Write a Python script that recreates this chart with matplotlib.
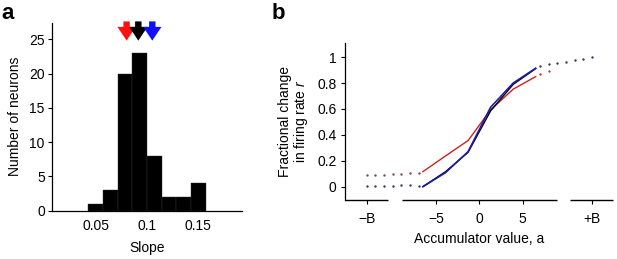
import numpy as np
import matplotlib
matplotlib.use("Agg")
import matplotlib.pyplot as plt
import matplotlib.transforms as mtransforms

plt.rcParams['font.family'] = ['Liberation Sans', 'DejaVu Sans']
plt.rcParams['mathtext.fontset'] = 'custom'
plt.rcParams['mathtext.it'] = 'Liberation Sans:italic'
plt.rcParams['mathtext.rm'] = 'Liberation Sans'

# ---------------- data ----------------
# panel a: histogram of slopes
bin_edges = [0.0425, 0.0569, 0.0713, 0.0857, 0.1001, 0.1145, 0.1289, 0.1433, 0.1578]
counts = [1, 3, 20, 23, 8, 2, 2, 4]
arrow_slopes = [0.0800, 0.0915, 0.1052]
arrow_colors = ['#ff1010', '#000000', '#1010ff']
hist_xticks = [0.05, 0.1, 0.15]
hist_xticklabels = ['0.05', '0.1', '0.15']
hist_yticks = [0, 5, 10, 15, 20, 25]

# panel b: fractional change in firing rate vs accumulator value
acc_x = [-6.5, -3.9, -1.3, 1.3, 3.9, 6.5]
r_red = [0.116, 0.237, 0.356, 0.593, 0.753, 0.850]
r_black = [0.000, 0.115, 0.265, 0.585, 0.790, 0.912]
r_blue = [0.000, 0.108, 0.270, 0.613, 0.800, 0.915]
ext_left_x = [-13, -12, -11, -10, -9, -8, -7]
ext_left_upper = [0.090, 0.088, 0.092, 0.095, 0.098, 0.103, 0.108]
ext_left_lower = [0.002, 0.004, 0.006, 0.008, 0.010, 0.012, 0.008]
ext_right_x = [7, 8, 9, 10, 11, 12, 13]
ext_right_dark = [0.930, 0.945, 0.955, 0.965, 0.978, 0.988, 1.000]
ext_right_red_x = [7, 8]
ext_right_red = [0.870, 0.890]
B = 13
b_xticks = [-B, -5, 0, 5, B]
b_xticklabels = ['\u2212B', '\u22125', '0', '5', '+B']
b_yticks = [0, 0.2, 0.4, 0.6, 0.8, 1.0]
b_yticklabels = ['0', '0.2', '0.4', '0.6', '0.8', '1']
axis_segments = [(-15.5, -10.5), (-8.95, 8.93), (10.45, 15.45)]

# ---------------- figure ----------------
fig = plt.figure(figsize=(6.17, 2.59), dpi=100)
fs = 10

# panel a
axa = fig.add_axes([0.0838, 0.1865, 0.308, 0.7255])
widths = np.diff(bin_edges)
axa.bar(bin_edges[:-1], counts, width=widths, align='edge', color='black',
        edgecolor='#333333', linewidth=0.3)
axa.set_xlim(0.0065, 0.193)
axa.set_ylim(0, 27.4)
axa.set_xticks(hist_xticks)
axa.set_xticklabels(hist_xticklabels, fontsize=fs)
axa.set_yticks(hist_yticks)
axa.tick_params(axis='y', labelsize=fs, length=3, width=0.8, pad=2)
axa.tick_params(axis='x', labelsize=fs, length=0, pad=6)
axa.spines['top'].set_visible(False)
axa.spines['right'].set_visible(False)
axa.spines['left'].set_linewidth(0.9)
axa.spines['bottom'].set_linewidth(0.9)
axa.set_xlabel('Slope', fontsize=fs, labelpad=6)
axa.set_ylabel('Number of neurons', fontsize=fs, labelpad=5)
for xs, c in zip(arrow_slopes, arrow_colors):
    axa.annotate('', xy=(xs, 24.8), xytext=(xs, 27.6), annotation_clip=False,
                 arrowprops=dict(arrowstyle='simple,head_length=0.9,head_width=1.2,tail_width=0.42',
                                 color=c, mutation_scale=11, shrinkA=0, shrinkB=0, lw=0))
fig.text(0.003, 0.925, 'a', fontsize=16, fontweight='bold')

# panel b
axb = fig.add_axes([0.559, 0.228, 0.435, 0.605])
axb.plot(acc_x, r_red, color='#cc2020', lw=1.0)
axb.plot(acc_x, r_black, color='black', lw=1.0)
axb.plot(acc_x, r_blue, color='#1c1ca8', lw=1.2)
dot = dict(ls='none', marker='.', ms=1.4)
axb.plot(ext_left_x, ext_left_upper, color='#7a4050', **dot)
axb.plot(ext_left_x, ext_left_lower, color='#303060', **dot)
axb.plot(ext_right_x, ext_right_dark, color='#303060', **dot)
axb.plot(ext_right_red_x, ext_right_red, color='#c03030', **dot)
axb.set_xlim(-15.5, 15.45)
axb.set_ylim(-0.103, 1.108)
axb.spines['top'].set_visible(False)
axb.spines['right'].set_visible(False)
axb.spines['bottom'].set_visible(False)
axb.spines['left'].set_linewidth(0.9)
trans = mtransforms.blended_transform_factory(axb.transData, axb.transAxes)
for x0, x1 in axis_segments:
    axb.plot([x0, x1], [0, 0], color='black', lw=1.0, transform=trans,
             clip_on=False, solid_capstyle='butt')
axb.set_xticks(b_xticks)
axb.set_xticklabels(b_xticklabels, fontsize=fs)
axb.set_yticks(b_yticks)
axb.set_yticklabels(b_yticklabels, fontsize=fs)
axb.tick_params(axis='y', length=3, width=0.8, pad=3)
axb.tick_params(axis='x', length=3, width=0.8, pad=6)
axb.set_xlabel('Accumulator value, a', fontsize=fs, labelpad=4)
axb.set_ylabel('Fractional change\nin firing rate $\\it{r}$', fontsize=fs, labelpad=5,
               linespacing=1.0)
fig.text(0.44, 0.925, 'b', fontsize=16, fontweight='bold')

fig.savefig('out.png', dpi=100)
